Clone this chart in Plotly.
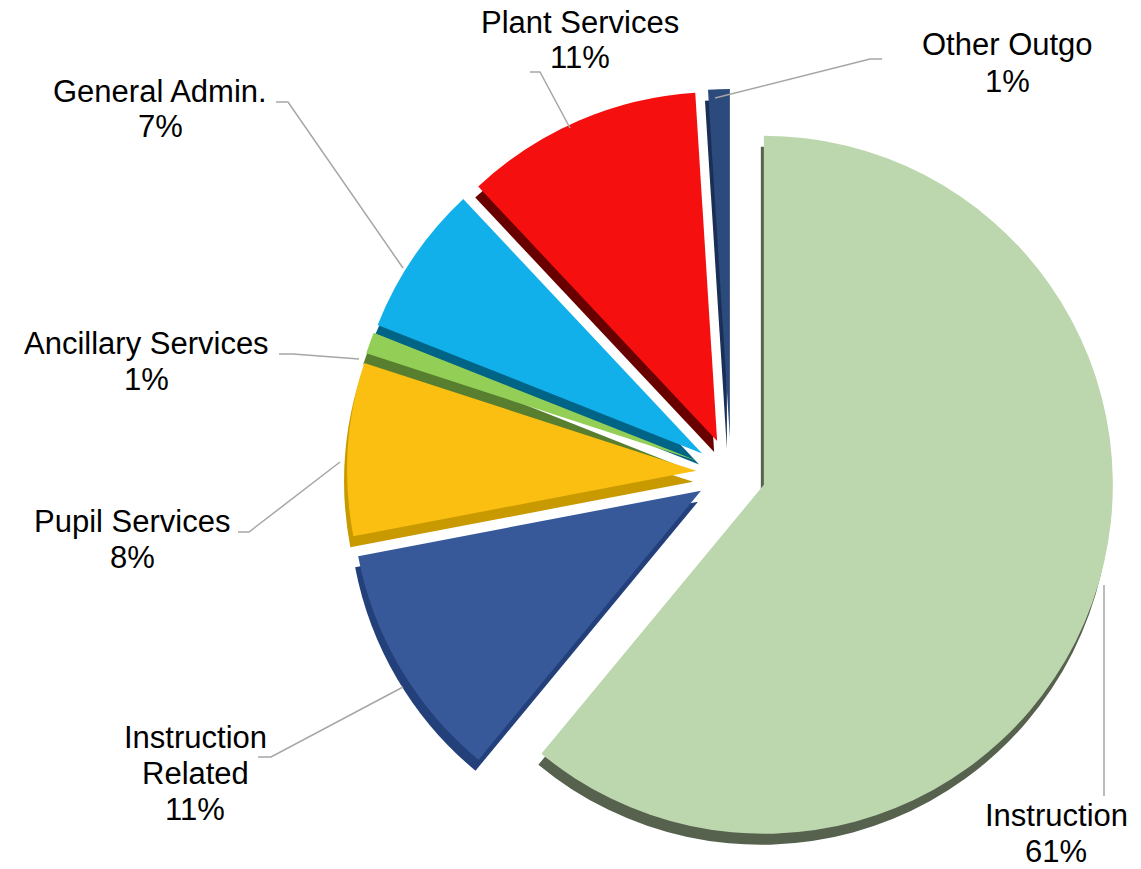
import plotly.graph_objects as go

# Budget shares by function (percent), in clockwise order from 12 o'clock
categories = ["Instruction", "Instruction Related", "Pupil Services",
              "Ancillary Services", "General Admin.", "Plant Services", "Other Outgo"]
shares = [61, 11, 8, 1, 7, 11, 1]

# Text lines for each category label (percentage is appended below)
label_lines = [["Instruction"], ["Instruction", "Related"], ["Pupil Services"],
               ["Ancillary Services"], ["General Admin."], ["Plant Services"], ["Other Outgo"]]

# Face and side (extrusion) colours for the pseudo-3D slices
face_colors = ["#bcd6ae", "#37599a", "#fbbf12", "#93cf56", "#12b0ea", "#f50f0f", "#2c4a7c"]
side_colors = ["#56614e", "#23407a", "#c99a00", "#587f2f", "#006487", "#680000", "#1a2f55"]

W, H = 1141, 869
FONT = dict(family="Liberation Sans, Arial, sans-serif", size=31, color="#000000")


def px(x):
    return x / W


def py(y):
    return 1 - y / H


def clamp(v):
    return min(1.0, max(0.0, v))


# pie geometry in pixels
CX, CY, R, PULL = 731, 473, 349, 0.1
BOX = 2 * R * (1 + PULL)
DEPTH_X, DEPTH_Y = -3, 11


def domain(cx, cy):
    return dict(x=[clamp(px(cx - BOX / 2)), clamp(px(cx + BOX / 2))],
                y=[clamp(py(cy + BOX / 2)), clamp(py(cy - BOX / 2))])


common = dict(labels=categories, values=shares, sort=False, direction="clockwise",
              rotation=0, pull=[PULL] * len(shares), textinfo="none",
              hoverinfo="label+percent", showlegend=False)

fig = go.Figure()
# extruded side layer underneath
fig.add_trace(go.Pie(**common, domain=domain(CX + DEPTH_X, CY + DEPTH_Y),
                     marker=dict(colors=side_colors, line=dict(width=0))))
# top face layer
fig.add_trace(go.Pie(**common, domain=domain(CX, CY),
                     marker=dict(colors=face_colors, line=dict(width=0))))

# label placement: (centre x, first baseline y) in pixels
label_pos = [(1056, 826), (195, 748), (132, 532), (146, 354), (160, 102), (580, 33), (1007, 56)]
LINE_GAP = 36

# leader lines (pixel polylines from label to slice)
leaders = [
    [(1104, 796), (1104, 585)],
    [(258, 757), (271, 757), (403, 687)],
    [(238, 532), (249, 532), (340, 462)],
    [(279, 354), (293, 354), (359, 359)],
    [(276, 102), (288, 102), (403, 268)],
    [(530, 72), (540, 72), (570, 128)],
    [(882, 59), (870, 59), (715, 98)],
]

annotations = []
for lines, share, (lx, ly) in zip(label_lines, shares, label_pos):
    for i, t in enumerate(lines + [f"{share}%"]):
        annotations.append(dict(x=px(lx), y=py(ly + i * LINE_GAP - 11), xref="paper", yref="paper",
                                text=t, showarrow=False, xanchor="center", yanchor="middle",
                                font=FONT))

shapes = []
for pts in leaders:
    path = "M " + " L ".join(f"{px(x):.5f},{py(y):.5f}" for x, y in pts)
    shapes.append(dict(type="path", path=path, xref="paper", yref="paper",
                       line=dict(color="#a6a6a6", width=1.5)))

fig.update_layout(width=W, height=H, margin=dict(l=0, r=0, t=0, b=0),
                  paper_bgcolor="white", plot_bgcolor="white",
                  annotations=annotations, shapes=shapes)

fig.write_html("out.html")
